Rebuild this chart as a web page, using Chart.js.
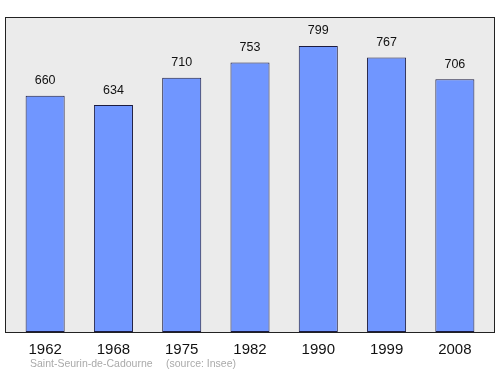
<!DOCTYPE html>
<html>
<head>
<meta charset="utf-8">
<script src="https://cdn.jsdelivr.net/npm/chart.js@4"></script>
<style>
  html, body { margin: 0; padding: 0; background: #fff; }
  #wrap { width: 500px; height: 374px; }
</style>
</head>
<body>
<div id="wrap"><canvas id="popChart" width="500" height="374"></canvas></div>
<script>
  const years = ['1962', '1968', '1975', '1982', '1990', '1999', '2008'];
  const population = [660, 634, 710, 753, 799, 767, 706];
  const placeName = 'Saint-Seurin-de-Cadourne';
  const sourceName = '(source: Insee)';

  const FONT = '"Liberation Sans", Arial, sans-serif';

  // gray frame behind the bars, a bit wider than the chart area
  const framePlugin = {
    id: 'frame',
    beforeDatasetsDraw(chart) {
      const { ctx, chartArea } = chart;
      const x0 = chartArea.left - 6, x1 = chartArea.right + 5;
      ctx.save();
      ctx.fillStyle = '#ebebeb';
      ctx.fillRect(x0, chartArea.top, x1 - x0, chartArea.bottom - chartArea.top);
      ctx.restore();
    },
    afterDatasetsDraw(chart) {
      const { ctx, chartArea } = chart;
      const x0 = chartArea.left - 6, x1 = chartArea.right + 5;
      ctx.save();
      ctx.strokeStyle = '#222';
      ctx.lineWidth = 1;
      ctx.strokeRect(x0 + 0.5, chartArea.top + 0.5, x1 - x0, chartArea.bottom - chartArea.top);
      ctx.restore();
    }
  };

  const labelPlugin = {
    id: 'valueLabels',
    afterDraw(chart) {
      const { ctx } = chart;
      const meta = chart.getDatasetMeta(0);
      ctx.save();
      ctx.fillStyle = '#111';
      ctx.font = '12.5px ' + FONT;
      ctx.textAlign = 'center';
      ctx.textBaseline = 'middle';
      meta.data.forEach((bar, i) => {
        ctx.fillText(String(population[i]), bar.x, bar.y - 15);
      });
      ctx.fillStyle = '#aaa';
      ctx.font = '10.5px ' + FONT;
      ctx.textAlign = 'left';
      ctx.fillText(placeName, 30, 364);
      ctx.fillText(sourceName, 166, 364);
      ctx.restore();
    }
  };

  new Chart(document.getElementById('popChart').getContext('2d'), {
    type: 'bar',
    data: {
      labels: years,
      datasets: [{
        data: population,
        backgroundColor: '#7096ff',
        borderColor: '#1c1c40',
        borderWidth: 1,
        borderSkipped: false,
        barPercentage: 1,
        categoryPercentage: 0.572
      }]
    },
    options: {
      responsive: false,
      animation: false,
      layout: { padding: { left: 11, right: 11, top: 17, bottom: 6 } },
      scales: {
        x: {
          grid: { display: false, drawTicks: false },
          border: { display: false },
          ticks: { color: '#111', font: { family: FONT, size: 15 }, padding: 9 }
        },
        y: { display: false, min: 0, max: 880 }
      },
      plugins: {
        legend: { display: false },
        tooltip: { enabled: false }
      }
    },
    plugins: [framePlugin, labelPlugin]
  });
</script>
</body>
</html>
